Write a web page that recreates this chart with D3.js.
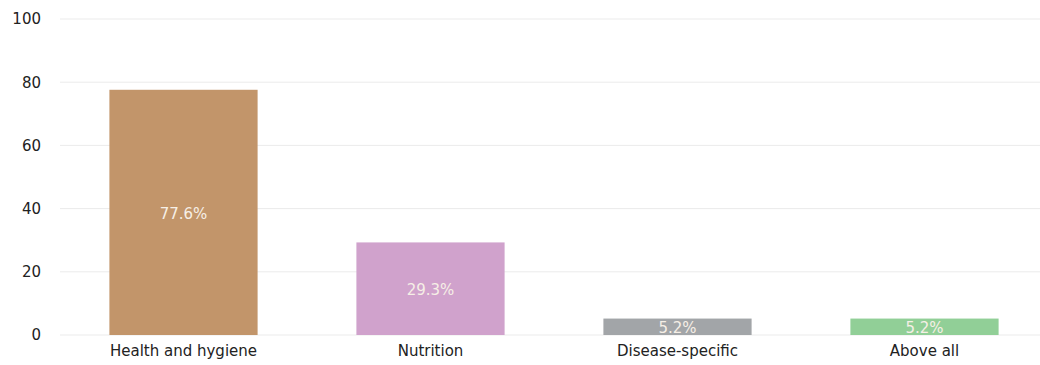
<!DOCTYPE html>
<html><head><meta charset="utf-8">
<script src="https://cdn.jsdelivr.net/npm/d3@7"></script>
<style>body{margin:0;background:#fff}svg{display:block;font-family:"DejaVu Sans",sans-serif}</style>
</head><body><svg id="c" width="1040" height="365"></svg>
<script>
const categories = ["Health and hygiene", "Nutrition", "Disease-specific", "Above all"];
const values = [77.6, 29.3, 5.2, 5.2];
const colors = ["#c2956a", "#d0a2cc", "#a2a5a8", "#91cf97"];
const yTicks = [0, 20, 40, 60, 80, 100];

const svg = d3.select("#c");
const x = d3.scaleBand().domain(categories).range([60, 1048]).paddingInner(0.4).paddingOuter(0.2);
const y = d3.scaleLinear().domain([0, 100]).range([335, 19]);

svg.append("g").selectAll("line").data(yTicks).join("line")
  .attr("x1", 60).attr("x2", 1040)
  .attr("y1", d => y(d)).attr("y2", d => y(d))
  .attr("stroke", "#ebebeb").attr("stroke-width", 1);

const ya = svg.append("g").attr("transform", "translate(60,0)")
  .call(d3.axisLeft(y).tickValues(yTicks).tickSize(0).tickPadding(19));
ya.select(".domain").remove();
ya.selectAll("text").attr("font-size", 15).attr("fill", "#222").attr("font-family", "DejaVu Sans");

svg.append("g").selectAll("rect").data(values).join("rect")
  .attr("x", (d, i) => x(categories[i])).attr("width", x.bandwidth())
  .attr("y", d => y(d)).attr("height", d => y(0) - y(d))
  .attr("fill", (d, i) => colors[i]);

svg.append("g").selectAll("text").data(values).join("text")
  .attr("x", (d, i) => x(categories[i]) + x.bandwidth() / 2)
  .attr("y", d => (y(d) + y(0)) / 2 + 1)
  .attr("dy", "0.35em").attr("text-anchor", "middle")
  .attr("font-size", 15).attr("fill", "#f6efe6")
  .text(d => d.toFixed(1) + "%");

const xa = svg.append("g").attr("transform", "translate(0,335)")
  .call(d3.axisBottom(x).tickSize(0).tickPadding(10));
xa.select(".domain").remove();
xa.selectAll("text").attr("font-size", 15).attr("fill", "#222").attr("font-family", "DejaVu Sans");
</script></body></html>
